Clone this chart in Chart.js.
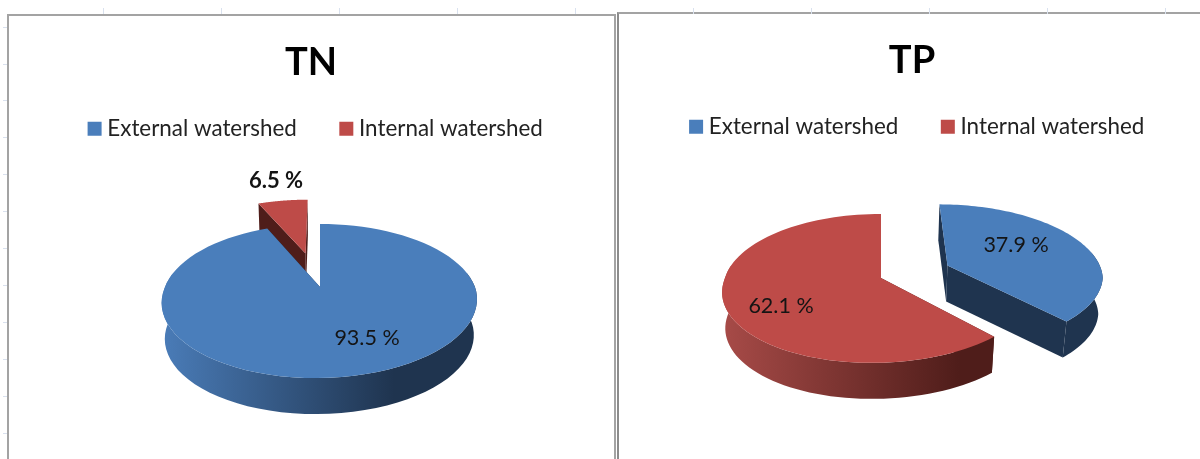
<!DOCTYPE html>
<html>
<head>
<meta charset="utf-8">
<script src="https://cdn.jsdelivr.net/npm/chart.js@4/dist/chart.umd.min.js"></script>
<style>
html,body{margin:0;padding:0;background:#fff;overflow:hidden;width:1200px;height:459px;}
.panel{position:absolute;box-sizing:border-box;background:#fff;border:2px solid #a3a3a3;border-bottom:none;}
.tick{position:absolute;background:#d9e1ee;}
canvas{position:absolute;filter:blur(.4px);}
</style>
</head>
<body>
<div class="panel" style="left:7px;top:14px;width:609px;height:445px;"></div>
<div class="panel" style="left:617px;top:12px;width:590px;height:447px;border-left-color:#8c8c8c;"></div>
<canvas id="tnChart" style="left:9px;top:16px;" width="604" height="443"></canvas>
<canvas id="tpChart" style="left:619px;top:14px;" width="586" height="445"></canvas>
<script>

const categories = ["External watershed","Internal watershed"];

const tnValues = [93.5,6.5];
const tpValues = [37.9,62.1];

const tickX = [103,221,339,457,575,693,811,929,1047,1165];
const tickY = [27,64,100,137,174,211,248,285,322,359,396,433];

const sliceColors = ["#4A7EBB","#BE4B48"];
const faceColors = ["#1F344F","#4F1D1A"];
const sideLight = ["#4A7CB8","#A84B48"];

// page furniture, the sheet ruler behind the two charts
tickX.forEach(x=>{
    addTick(x,8,1,6);
});
tickY.forEach(y=>{
    addTick(3,y,4,1);
});

function addTick(x,y,w,h){
    const d = document.createElement("div");
    d.className = "tick";
    d.style.cssText = `left:${x}px;top:${y}px;width:${w}px;height:${h}px`;
    document.body.appendChild(d);
}

function project(view,u,v){
    const w = 1 - view.persp * v;
    const y = view.ry * v / w;
    return {
        x: view.cx + view.rx * u / w - view.skew * Math.max(0,y),
        y: view.cy + y
    };
}

function lower(view,p){
    return {
        x: view.cx + (p.x - view.cx) * view.bottomScale,
        y: p.y + view.depth
    };
}

// the arcs keep their angles from the library, only the projection is done here
const pie3d = {
    id:"pie3d",
    beforeDatasetDraw(chart,args,opts){
        const ctx = chart.ctx;
        const arcs = chart.getDatasetMeta(0).data;
        opts.order.forEach(i=>{
            drawSlice(ctx,arcs[i],i,opts);
        });
        return false;
    },
    afterDatasetsDraw(chart,args,opts){
        const ctx = chart.ctx;
        const values = chart.data.datasets[0].data;
        ctx.save();
        ctx.textAlign = "center";
        ctx.textBaseline = "middle";
        ctx.fillStyle = "#141414";
        values.forEach((val,i)=>{
            const lab = opts.labels[i];
            ctx.font = lab.bold ? "bold 22px Lato" : "21.5px Lato";
            ctx.fillText(val.toFixed(1) + " %",lab.x,lab.y);
        });
        ctx.restore();
    },
    afterLayout(chart,args,opts){
        chart.legend.left += opts.legendNudge;
        chart.legend.right += opts.legendNudge;
        chart.legend.top += opts.legendLift;
        chart.legend.bottom += opts.legendLift;
    }
};

function drawSlice(ctx,arc,i,view){
    const mid = (arc.startAngle + arc.endAngle) / 2;
    const e = view.explode[i];
    const ox = Math.cos(mid) * e;
    const oy = Math.sin(mid) * e;
    const rim = [];
    const front = [];
    const steps = 90;
    for(let s=0;s<=steps;s++){
        const a = arc.startAngle + (arc.endAngle - arc.startAngle) * s / steps;
        const p = project(view,ox + Math.cos(a),oy + Math.sin(a));
        rim.push(p);
        // back part of the rim can not be seen
        if(Math.sin(a) > -.2){
            front.push(p);
        }
    }
    const apex = project(view,ox,oy);
    const apexLow = lower(view,apex);

    // radial faces
    ctx.fillStyle = faceColors[i];
    [rim[0],rim[steps]].forEach(p=>{
        const low = lower(view,p);
        ctx.beginPath();
        ctx.moveTo(apex.x,apex.y);
        ctx.lineTo(p.x,p.y);
        ctx.lineTo(low.x,low.y);
        ctx.lineTo(apexLow.x,apexLow.y);
        ctx.closePath();
        ctx.fill();
    });

    // outer wall
    if(front.length){
        const grad = ctx.createLinearGradient(view.sideFrom,0,view.sideTo,0);
        grad.addColorStop(0,sideLight[i]);
        grad.addColorStop(1,faceColors[i]);
        ctx.fillStyle = grad;
        ctx.beginPath();
        front.forEach((p,k)=>{
            if(k === 0){ ctx.moveTo(p.x,p.y); }
            else{ ctx.lineTo(p.x,p.y); }
        });
        for(let k=front.length-1;k>=0;k--){
            const low = lower(view,front[k]);
            ctx.lineTo(low.x,low.y);
        }
        ctx.closePath();
        ctx.fill();
    }

    // top face
    ctx.fillStyle = sliceColors[i];
    ctx.beginPath();
    ctx.moveTo(apex.x,apex.y);
    rim.forEach(p=>ctx.lineTo(p.x,p.y));
    ctx.closePath();
    ctx.fill();
}

function renderPie(id,title,values,view){
    new Chart(document.getElementById(id),{
        type:"pie",
        data:{
            labels:categories,
            datasets:[{
                data:values,
                backgroundColor:sliceColors,
                borderWidth:0
            }]
        },
        plugins:[pie3d],
        options:{
            responsive:false,
            animation:false,
            plugins:{
                title:{
                    display:true,
                    text:title,
                    color:"#000",
                    font:{family:"Lato",size:38,weight:"bold"},
                    padding:{top:24,bottom:0}
                },
                legend:{
                    position:"top",
                    labels:{
                        color:"#222",
                        font:{family:"Lato",size:22.4},
                        usePointStyle:true,
                        pointStyle:"rect",
                        boxWidth:3,
                        boxHeight:14,
                        padding:48
                    }
                },
                tooltip:{enabled:false},
                pie3d:view
            }
        }
    });
}

renderPie("tnChart","TN",tnValues,{
    cx:311, cy:271, rx:155, ry:74.5, persp:.182, depth:36, bottomScale:.98, skew:.05,
    explode:[0,.5], order:[1,0],
    sideFrom:153, sideTo:385, legendNudge:7, legendLift:-16,
    labels:[{x:358,y:322},{x:267,y:165,bold:true}]
});

renderPie("tpChart","TP",tpValues,{
    cx:262, cy:264, rx:156, ry:73, persp:.14, depth:36, bottomScale:.98, skew:.11,
    explode:[.47,0], order:[0,1],
    sideFrom:102, sideTo:340, legendNudge:7.5, legendLift:-16,
    labels:[{x:397,y:231},{x:162,y:292}]
});

</script>
</body>
</html>
